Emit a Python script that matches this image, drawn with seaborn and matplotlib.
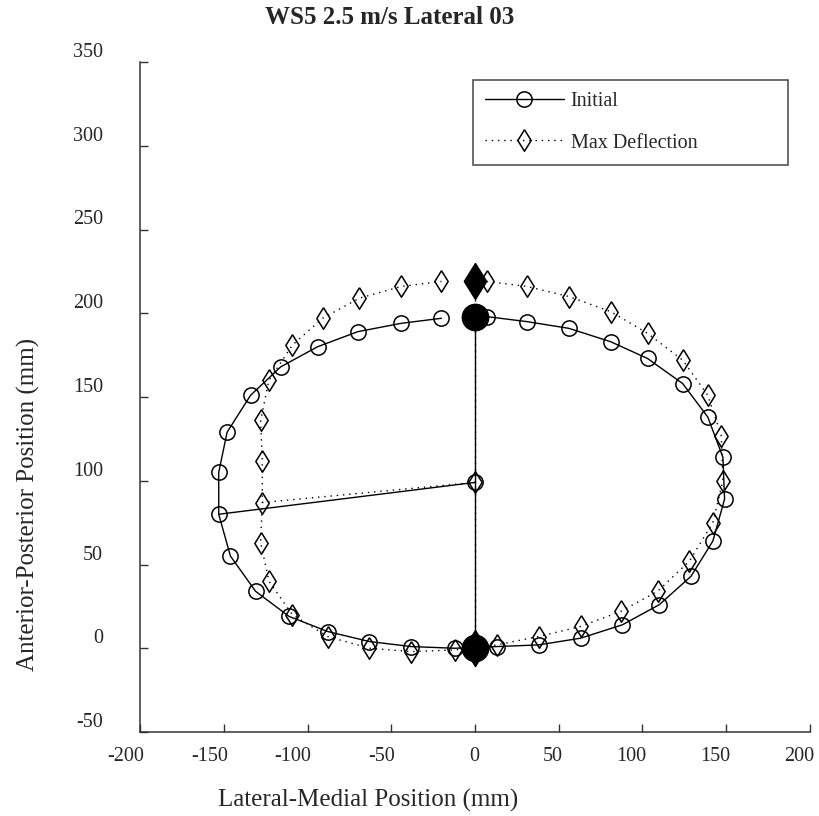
import numpy as np
import pandas as pd
import matplotlib
matplotlib.use("Agg")
import matplotlib.pyplot as plt
import seaborn as sns
from matplotlib.transforms import ScaledTranslation

# Données (mm)
init_x = [7, 31, 56, 81, 103, 124, 139, 148, 149, 142, 129, 110, 88, 63, 38, 13,
          -12, -38, -63, -88, -111, -131, -146, -153, -153, -148, -134, -116, -94, -70, -44, -20]
init_y = [198, 195, 191, 183, 173, 158, 138, 114, 89, 64, 43, 26, 14, 6, 2, 1,
          0, 1, 4, 10, 19, 34, 55, 80, 105, 129, 151, 168, 180, 189, 194, 197]
defl_x = [7, 31, 56, 81, 103, 124, 139, 147, 148, 142, 128, 109, 87, 63, 38, 13,
          -12, -38, -63, -88, -109, -123, -128, -127, -127, -128, -123, -109, -91, -69, -44, -20]
defl_y = [219, 216, 210, 201, 188, 172, 151, 127, 100, 75, 52, 34, 22, 13, 7, 2,
          -1, -2, 0, 7, 20, 40, 63, 87, 112, 136, 160, 181, 197, 209, 216, 219]

init_center = (0, 99)
defl_center = (0, 99)
init_top = (0, 198)
defl_top = (0, 219)
bottom = (0, 0)
spoke_idx = 23  # point latéral du rayon

xticks = [-200, -150, -100, -50, 0, 50, 100, 150, 200]
yticks = [-50, 0, 50, 100, 150, 200, 250, 300, 350]

sns.set_style("ticks")
plt.rcParams["font.family"] = ["Liberation Serif", "DejaVu Serif"]

fig = plt.figure(figsize=(8.2, 8.16), dpi=100)
ax = fig.add_axes([140/820, 84/816, 670/820, 670/816])

dot = (0, (1, 3.5))
diamond = [(0, 1), (0.62, 0), (0, -1), (-0.62, 0), (0, 1)]

# Max deflection (pointillé)
sns.lineplot(x=defl_x, y=defl_y, sort=False, estimator=None, ax=ax, color="black",
             lw=1, linestyle=dot, marker=diamond, ms=15.5, mfc="none", mec="black", mew=1.1,
             label="Max Deflection")
ax.plot([defl_top[0], bottom[0]], [defl_top[1], bottom[1]], color="black", lw=1, linestyle=dot)
ax.plot([defl_center[0], defl_x[spoke_idx]], [defl_center[1], defl_y[spoke_idx]],
        color="black", lw=1, linestyle=dot)
ax.plot(*defl_center, marker=diamond, ms=15.5, mfc="none", mec="black", mew=1.1)

# Initial (trait plein)
sns.lineplot(x=init_x, y=init_y, sort=False, estimator=None, ax=ax, color="black",
             lw=1, linestyle="-", marker="o", ms=11, mfc="none", mec="black", mew=1.1,
             label="Initial")
ax.plot([init_top[0], bottom[0]], [init_top[1], bottom[1]], color="black", lw=1)
ax.plot([init_center[0], init_x[spoke_idx]], [init_center[1], init_y[spoke_idx]],
        color="black", lw=1)
ax.plot(*init_center, marker="o", ms=11, mfc="none", mec="black", mew=1.1)

# Points pleins (haut / bas)
ax.plot(*defl_top, marker=diamond, ms=26, color="black")
ax.plot(*init_top, marker="o", ms=19, color="black")
ax.plot(*bottom, marker=diamond, ms=26, color="black")
ax.plot(*bottom, marker="o", ms=19, color="black")

ax.set_xlim(-200, 200)
ax.set_ylim(-50, 350)
ax.set_xticks(xticks)
ax.set_yticks(yticks)
ax.set_xticklabels([str(v) for v in xticks])
ax.set_yticklabels([str(v) for v in yticks])

sns.despine(ax=ax)
for s in ["left", "bottom"]:
    ax.spines[s].set_color("#333333")
    ax.spines[s].set_linewidth(1.1)
ax.tick_params(axis="both", direction="in", length=5.5, width=1, color="#333333",
               labelsize=14.5)
ax.tick_params(axis="x", pad=10.8)
ax.tick_params(axis="y", pad=26.6)

off = ScaledTranslation(4/100, 0, fig.dpi_scale_trans)
for lab in ax.get_xticklabels():
    lab.set_ha("right")
    lab.set_transform(lab.get_transform() + off)
for lab in ax.get_yticklabels():
    lab.set_va("bottom")

ax.set_xlabel("Lateral-Medial Position (mm)", fontsize=18, va="center")
ax.xaxis.set_label_coords(0.34, -0.1015)
ax.set_ylabel("Anterior-Posterior Position (mm)", fontsize=18, va="center")
ax.yaxis.set_label_coords(-0.166, 0.339)

ax.text(0.373, 1.067, "WS5 2.5 m/s Lateral 03", transform=ax.transAxes,
        ha="center", va="center", fontsize=18, fontweight="bold")

handles, labels = ax.get_legend_handles_labels()
order = [labels.index("Initial"), labels.index("Max Deflection")]
leg = ax.legend([handles[i] for i in order], [labels[i] for i in order],
                loc="upper left", bbox_to_anchor=(0.497, 0.836, 0.47, 0.137),
                mode="expand", borderaxespad=0, fontsize=14.5, handlelength=3.9,
                handletextpad=0.35, labelspacing=1.1, borderpad=0.6,
                fancybox=False, framealpha=1, edgecolor="#555555")
leg.get_frame().set_linewidth(1.2)

fig.savefig("out.png", dpi=100)
